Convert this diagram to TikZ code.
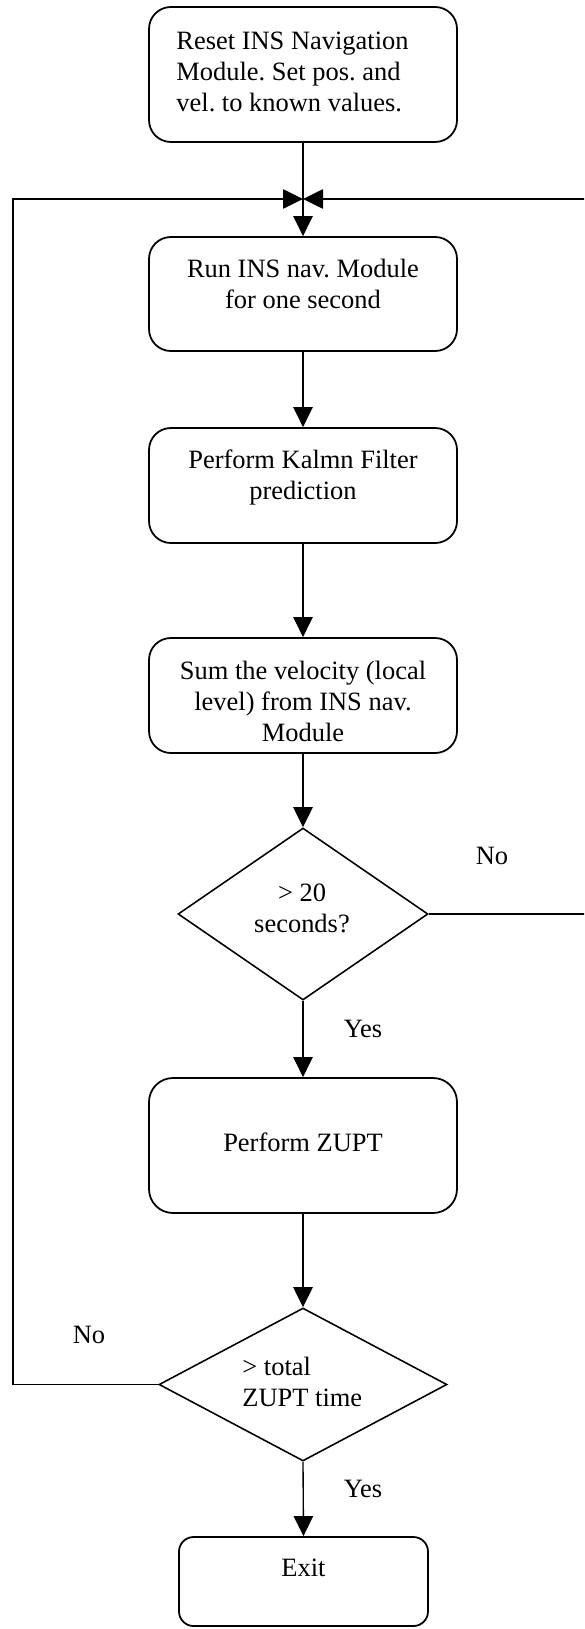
\documentclass[tikz,border=0pt]{standalone}
\usepackage{fontspec}
\setmainfont{Liberation Serif}
\usetikzlibrary{shapes.geometric,arrows.meta,fit}
% zero-width strut that fixes the height of the first text line
\newcommand\firstln{\rule{0pt}{10pt}}
\begin{document}
\frenchspacing
\begin{tikzpicture}[x=0.48pt,y=-0.48pt,
  txt/.style={font=\fontsize{12.7pt}{14.8pt}\selectfont, inner sep=0pt},
  stepbox/.style={draw, line width=0.85pt, inner sep=0pt, rounded corners=10.5pt},
  decision/.style={draw, diamond, line width=0.75pt, inner sep=0pt},
  conn/.style={line width=0.65pt},
  flow/.style={conn, -{Triangle[length=9.6pt,width=9.3pt]}}]
\useasboundingbox (0,0) rectangle (584,1629);
\clip (0,0) rectangle (584,1629);

% process boxes
\node[stepbox, fit={(149,7) (457,142)}] (b1) {};
\node[stepbox, fit={(149,237) (457,351)}] (b2) {};
\node[stepbox, fit={(149,428) (457,543)}] (b3) {};
\node[stepbox, fit={(149,638) (457,753)}] (b4) {};
\node[stepbox, rounded corners=11.5pt, fit={(149,1078) (457,1213)}] (b5) {};
\node[stepbox, rounded corners=7pt, fit={(179,1537) (428,1626)}] (exit) {};

% decisions
\node[decision, minimum width=120pt, minimum height=82.56pt] (d1) at (303,914) {};
\node[decision, minimum width=138.24pt, minimum height=73.44pt] (d2) at (303,1384.5) {};

% box texts
\node[txt, anchor=north west, align=left] (b1t) at (176,28.2)
  {\firstln Reset INS Navigation\\Module. Set pos. and\\vel. to known values.};
\node[txt, anchor=north, align=center] (b2t) at (303,256.2)
  {\firstln Run INS nav. Module\\for one second};
\node[txt, anchor=north, align=center] (b3t) at (303,447.2)
  {\firstln Perform Kalmn Filter\\prediction};
\node[txt, anchor=north, align=center] (b4t) at (303,658.2)
  {\firstln Sum the velocity (local\\level) from INS nav.\\Module};
\node[txt, anchor=base] (b5t) at (303,1151) {Perform ZUPT};
\node[txt, anchor=base] (exitt) at (303.5,1576) {Exit};
\node[txt, anchor=north, align=center] (d1t) at (302,880.2)
  {\firstln > 20\\seconds?};
\node[txt, anchor=north west, align=left] (d2t) at (242,1354.2)
  {\firstln > total\\ZUPT time};

% branch labels
\node[txt, anchor=base] (no1) at (492,864) {No};
\node[txt, anchor=base] (yes1) at (363,1037) {Yes};
\node[txt, anchor=base] (no2) at (89,1343) {No};
\node[txt, anchor=base] (yes2) at (363,1497) {Yes};

% junction where both loops return
\coordinate (m) at (303,199);
\coordinate (lc) at (13,199);
\coordinate (rc) at (600,199);

% main flow
\draw[flow] (b1.south) -- (b2.north);
\draw[flow] (b2.south) -- (b3.north);
\draw[flow] (b3.south) -- (b4.north);
\draw[flow] (b4.south) -- (d1.north);
\draw[flow] (d1.south) -- (b5.north);
\draw[flow] (b5.south) -- (d2.north);
\draw[flow] (d2.south) -- (exit.north);

% loop-backs
\draw[flow] (d2.west) -| (lc) -- (m);
\draw[flow] (d1.east) -| (rc) -- (m);
\end{tikzpicture}
\end{document}
